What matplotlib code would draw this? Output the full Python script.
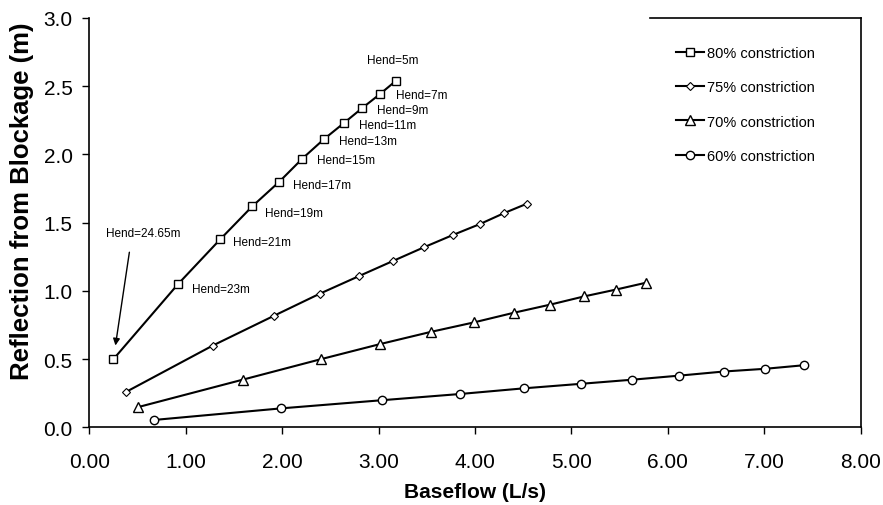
import matplotlib
matplotlib.use("Agg")
import matplotlib.pyplot as plt
from matplotlib.ticker import FormatStrFormatter
from matplotlib.lines import Line2D

plt.rcParams['font.family'] = ['Liberation Sans', 'DejaVu Sans']

# baseflow (L/s) and reflection distance (m) for each constriction
q80 = [0.25, 0.92, 1.36, 1.69, 1.97, 2.21, 2.43, 2.64, 2.83, 3.01, 3.18]
r80 = [0.50, 1.05, 1.38, 1.62, 1.80, 1.97, 2.11, 2.23, 2.34, 2.44, 2.54]

q75 = [0.38, 1.28, 1.92, 2.39, 2.80, 3.15, 3.47, 3.77, 4.05, 4.30, 4.54]
r75 = [0.26, 0.60, 0.82, 0.98, 1.11, 1.22, 1.32, 1.41, 1.49, 1.57, 1.64]

q70 = [0.51, 1.59, 2.40, 3.01, 3.54, 3.99, 4.40, 4.78, 5.13, 5.46, 5.77]
r70 = [0.15, 0.35, 0.50, 0.61, 0.70, 0.77, 0.84, 0.90, 0.96, 1.01, 1.06]

q60 = [0.67, 1.99, 3.04, 3.84, 4.51, 5.10, 5.63, 6.12, 6.58, 7.01, 7.41]
r60 = [0.055, 0.14, 0.20, 0.245, 0.287, 0.32, 0.35, 0.38, 0.41, 0.43, 0.456]

hend = ['Hend=24.65m', 'Hend=23m', 'Hend=21m', 'Hend=19m', 'Hend=17m',
        'Hend=15m', 'Hend=13m', 'Hend=11m', 'Hend=9m', 'Hend=7m', 'Hend=5m']

fig = plt.figure(figsize=(8.83, 5.06), dpi=100)
ax = fig.add_axes([0.1011, 0.1532, 0.8737, 0.8093])

ax.plot(q80, r80, '-', color='black', lw=1.5, marker='s', ms=5.5, mfc='white', mec='black', mew=1, label='80% constriction')
ax.plot(q75, r75, '-', color='black', lw=1.5, marker='D', ms=4.5, mfc='white', mec='black', mew=0.8, label='75% constriction')
ax.plot(q70, r70, '-', color='black', lw=1.5, marker='^', ms=6.5, mfc='white', mec='black', mew=1, label='70% constriction')
ax.plot(q60, r60, '-', color='black', lw=1.5, marker='o', ms=6, mfc='white', mec='black', mew=1, label='60% constriction')

# label offsets in pixels from each square
offs = [None, (14, -5), (13, -3), (13, -7), (14, -3), (15, -1.5),
        (15, -1.5), (15, -1.5), (15, -1.5), (16, -0.5), (-3, 21)]
for i in range(1, len(hend)):
    ha = 'center' if i == len(hend) - 1 else 'left'
    ax.annotate(hend[i], (q80[i], r80[i]), xytext=offs[i], textcoords='offset pixels',
                ha=ha, va='center', fontsize=8.5)

ax.annotate(hend[0], (q80[0], r80[0]), xytext=(30, 126), textcoords='offset pixels',
            ha='center', va='center', fontsize=8.5)
ax.annotate('', (q80[0], r80[0]), xytext=(16, 107), textcoords='offset pixels',
            arrowprops=dict(arrowstyle='-|>', color='black', lw=1, shrinkA=0, shrinkB=10,
                            mutation_scale=10))

ax.set_xlim(0, 8)
ax.set_ylim(0, 3)
ax.set_xticks([0, 1, 2, 3, 4, 5, 6, 7, 8])
ax.set_yticks([0, 0.5, 1.0, 1.5, 2.0, 2.5, 3.0])
ax.xaxis.set_major_formatter(FormatStrFormatter('%.2f'))
ax.yaxis.set_major_formatter(FormatStrFormatter('%.1f'))
ax.tick_params(axis='both', direction='out', length=5, width=1, labelsize=15)
ax.tick_params(axis='x', pad=13)
ax.tick_params(axis='y', pad=7)

ax.spines['top'].set_visible(False)
for s in ['left', 'bottom', 'right']:
    ax.spines[s].set_linewidth(1.2)
ax.add_line(Line2D([0.727, 1], [1, 1], transform=ax.transAxes, color='black', lw=1.2, clip_on=False))

ax.set_xlabel('Baseflow (L/s)', fontsize=15, fontweight='bold')
ax.set_ylabel('Reflection from Blockage (m)', fontsize=18.5, fontweight='bold')
ax.xaxis.set_label_coords(0.5, -0.133)
ax.yaxis.set_label_coords(-0.071, 0.556)

ax.legend(loc='upper left', bbox_to_anchor=(0.753, 0.945), frameon=False, fontsize=10.5,
          handlelength=1.9, handletextpad=0.25, labelspacing=1.38, borderaxespad=0)

fig.savefig('out.png', dpi=100)
